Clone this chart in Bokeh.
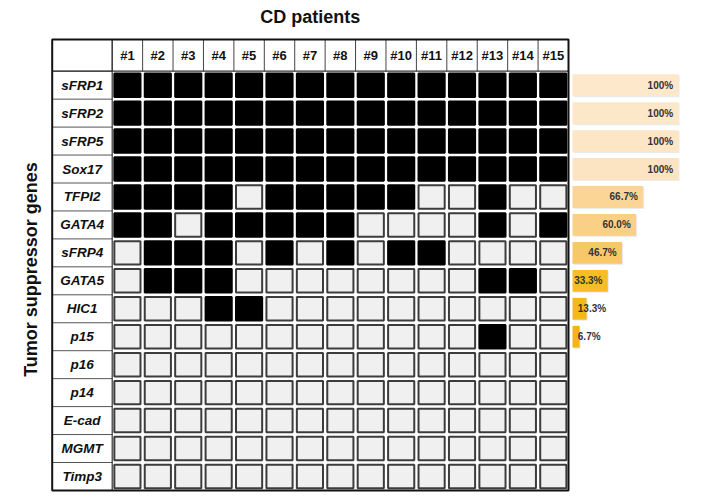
from bokeh.plotting import figure
from bokeh.models import Range1d, ColumnDataSource
from bokeh.core.properties import value
from bokeh.embed import file_html
from bokeh.resources import INLINE
import math

# ---------------- data ----------------
genes = ["sFRP1", "sFRP2", "sFRP5", "Sox17", "TFPI2", "GATA4", "sFRP4", "GATA5",
         "HIC1", "p15", "p16", "p14", "E-cad", "MGMT", "Timp3"]
patients = ["#1", "#2", "#3", "#4", "#5", "#6", "#7", "#8", "#9", "#10",
            "#11", "#12", "#13", "#14", "#15"]

# 1 = methylated (black), 0 = unmethylated (white), patients #1..#15
m_sFRP1 = [1, 1, 1, 1, 1, 1, 1, 1, 1, 1, 1, 1, 1, 1, 1]
m_sFRP2 = [1, 1, 1, 1, 1, 1, 1, 1, 1, 1, 1, 1, 1, 1, 1]
m_sFRP5 = [1, 1, 1, 1, 1, 1, 1, 1, 1, 1, 1, 1, 1, 1, 1]
m_Sox17 = [1, 1, 1, 1, 1, 1, 1, 1, 1, 1, 1, 1, 1, 1, 1]
m_TFPI2 = [1, 1, 1, 1, 0, 1, 1, 1, 1, 1, 0, 0, 1, 0, 0]
m_GATA4 = [1, 1, 0, 1, 1, 1, 1, 1, 0, 0, 0, 0, 1, 0, 1]
m_sFRP4 = [0, 1, 1, 1, 0, 1, 0, 1, 0, 1, 1, 0, 0, 0, 0]
m_GATA5 = [0, 1, 1, 1, 0, 0, 0, 0, 0, 0, 0, 0, 1, 1, 0]
m_HIC1 = [0, 0, 0, 1, 1, 0, 0, 0, 0, 0, 0, 0, 0, 0, 0]
m_p15 = [0, 0, 0, 0, 0, 0, 0, 0, 0, 0, 0, 0, 1, 0, 0]
m_p16 = [0, 0, 0, 0, 0, 0, 0, 0, 0, 0, 0, 0, 0, 0, 0]
m_p14 = [0, 0, 0, 0, 0, 0, 0, 0, 0, 0, 0, 0, 0, 0, 0]
m_Ecad = [0, 0, 0, 0, 0, 0, 0, 0, 0, 0, 0, 0, 0, 0, 0]
m_MGMT = [0, 0, 0, 0, 0, 0, 0, 0, 0, 0, 0, 0, 0, 0, 0]
m_Timp3 = [0, 0, 0, 0, 0, 0, 0, 0, 0, 0, 0, 0, 0, 0, 0]

pct_genes = ["sFRP1", "sFRP2", "sFRP5", "Sox17", "TFPI2", "GATA4", "sFRP4", "GATA5", "HIC1", "p15"]
pct_values = [100, 100, 100, 100, 66.7, 60.0, 46.7, 33.3, 13.3, 6.7]
pct_labels = ["100%", "100%", "100%", "100%", "66.7%", "60.0%", "46.7%", "33.3%", "13.3%", "6.7%"]

title_text = "CD patients"
ylabel_text = "Tumor suppressor genes"

# ---------------- styles ----------------
bar_colors = ["#FDE8CB", "#FDE7C9", "#FCE6C6", "#FCE4C2", "#FAD596", "#F9D086",
              "#F8C868", "#F6BD24", "#F4B818", "#F3B514"]
FONT = "Liberation Sans"

matrix = [m_sFRP1, m_sFRP2, m_sFRP5, m_Sox17, m_TFPI2, m_GATA4, m_sFRP4, m_GATA5,
          m_HIC1, m_p15, m_p16, m_p14, m_Ecad, m_MGMT, m_Timp3]

W, H = 700, 495
col_w = 30.42     # px per patient column
row_h = 27.95     # px per gene row
x0_px = 111.7     # left edge of patient #1 column
y0_px = 70.7      # bottom edge of header row
pct0_px = 572.0
pct_scale = 1.06  # px per percent

p = figure(width=W, height=H, output_backend="svg", toolbar_location=None,
           x_axis_type=None, y_axis_type=None, min_border=0,
           x_range=Range1d(-x0_px / col_w, (W - x0_px) / col_w),
           y_range=Range1d((H - y0_px) / row_h, -y0_px / row_h))
p.extra_x_ranges = {"pct": Range1d(-pct0_px / pct_scale, (W - pct0_px) / pct_scale)}
p.grid.visible = False
p.outline_line_color = None
p.background_fill_color = "white"
p.border_fill_color = "white"

n_p = len(patients)
n_g = len(genes)
gene_left = -(x0_px - 51.7) / col_w
table_top = -(y0_px - 39.0) / row_h

# ---- cells ----
cx, cy, fill, line = [], [], [], []
for gi, row in enumerate(matrix):
    for pi, v in enumerate(row):
        cx.append(pi + 0.5)
        cy.append(gi + 0.5)
        fill.append("#000000" if v else "#F0F0F0")
        line.append("#000000" if v else "#3C3C3C")
p.rect(x=cx, y=cy, width=0.86, height=0.84, fill_color=fill, line_color=line,
       line_width=2)

# ---- table lines ----
p.segment(x0=list(range(0, n_p)), y0=[table_top] * n_p, x1=list(range(0, n_p)),
          y1=[0] * n_p, line_color="#444444", line_width=1)
p.segment(x0=[gene_left] * (n_g), y0=list(range(0, n_g)), x1=[0] * n_g,
          y1=list(range(0, n_g)), line_color="#555555", line_width=1)
p.segment(x0=[gene_left], y0=[0], x1=[n_p], y1=[0], line_color="#333333", line_width=1.2)
p.segment(x0=[0], y0=[table_top], x1=[0], y1=[n_g], line_color="#333333", line_width=1.2)
p.rect(x=[(gene_left + n_p) / 2], y=[(table_top + n_g) / 2], width=[n_p - gene_left],
       height=[n_g - table_top], fill_color=None, line_color="#111111", line_width=2)

# ---- header labels ----
p.text(x=[i + 0.5 for i in range(n_p)], y=[table_top / 2] * n_p, text=patients,
       text_font=value(FONT), text_font_style="bold", text_font_size="13px",
       text_align="center", text_baseline="middle", text_color="#111111")

# ---- gene labels ----
p.text(x=[gene_left / 2] * n_g, y=[g + 0.5 for g in range(n_g)], text=genes,
       text_font=value(FONT), text_font_style="bold italic", text_font_size="13.5px",
       text_align="center", text_baseline="middle", text_color="#111111")

# ---- percentage bars ----
gi_of = {g: i for i, g in enumerate(genes)}
by = [gi_of[g] + 0.5 for g in pct_genes]
p.hbar(y=[b + 0.04 for b in by], left=[1.0] * len(by), right=[v + 1.0 for v in pct_values],
       height=0.78, fill_color="#000000", fill_alpha=0.08, line_color=None,
       x_range_name="pct")
p.hbar(y=by, left=0, right=pct_values, height=0.78, fill_color=bar_colors,
       line_color=None, x_range_name="pct")

lx, la = [], []
for v in pct_values:
    if v >= 30:
        lx.append(v - 5.0)
        la.append("right")
    else:
        lx.append(5.0)
        la.append("left")
src = ColumnDataSource(dict(x=lx, y=by, t=pct_labels, a=la))
p.text(x="x", y="y", text="t", source=src, text_align="a", text_baseline="middle",
       text_font=value(FONT), text_font_style="bold", text_font_size="10px",
       text_color="#333333", x_range_name="pct")

# ---- title & y-label ----
p.text(x=[(gene_left + n_p) / 2], y=[-(y0_px - 16) / row_h], text=[title_text],
       text_font=value(FONT), text_font_style="bold", text_font_size="18px",
       text_align="center", text_baseline="middle", text_color="#111111")
p.text(x=[-(x0_px - 30) / col_w], y=[(269 - y0_px) / row_h], text=[ylabel_text],
       angle=math.pi / 2, text_font=value(FONT), text_font_style="bold",
       text_font_size="18px", text_align="center", text_baseline="middle",
       text_color="#111111")

open("out.html", "w").write(file_html(p, INLINE))
